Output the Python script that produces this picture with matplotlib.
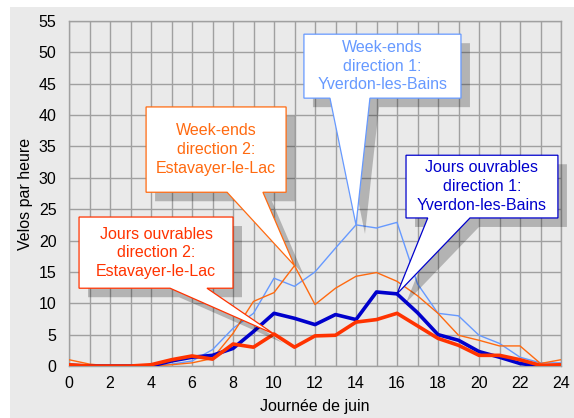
import numpy as np
import matplotlib
matplotlib.use("Agg")
import matplotlib.pyplot as plt
from matplotlib.patches import Polygon, Rectangle
from matplotlib.transforms import offset_copy

plt.rcParams['font.family'] = ['Liberation Sans', 'DejaVu Sans']

# heures de la journée
hours = list(range(25))

# vélos par heure
we_dir1 = [0.3, 0.1, 0, 0, 0, 0.3, 0.8, 2.6, 6.0, 8.4, 14.0, 12.7, 15.0, 18.8, 22.5,
           22.0, 22.9, 13.1, 8.4, 8.0, 4.9, 3.6, 1.4, 0.5, 0.5]
we_dir2 = [1.0, 0.3, 0, 0, 0, 0.2, 0.5, 1.2, 5.2, 10.3, 11.7, 16.0, 9.8, 12.4, 14.3,
           14.9, 13.5, 11.2, 8.4, 4.9, 4.1, 3.2, 3.2, 0.4, 1.0]
jo_dir1 = [0.1, 0, 0, 0, 0, 0.8, 1.4, 1.7, 2.8, 5.5, 8.4, 7.6, 6.6, 8.2, 7.4,
           11.8, 11.5, 8.5, 5.0, 4.1, 2.3, 1.4, 0.4, 0, 0]
jo_dir2 = [0.2, 0, 0, 0, 0.2, 1.0, 1.6, 1.1, 3.5, 3.0, 5.1, 3.0, 4.8, 4.9, 7.0,
           7.4, 8.4, 6.4, 4.4, 3.3, 1.7, 1.7, 1.0, 0.1, 0.2]

x_ticks = list(range(0, 25, 2))
y_ticks = list(range(0, 56, 5))

c_lblue = '#6699ff'
c_orange = '#ff6a10'
c_dblue = '#0000cc'
c_red = '#ff3300'
bg = '#eaeaea'
grid_c = '#a0a0a0'

fig = plt.figure(figsize=(5.74, 4.18), dpi=100)
fig.patch.set_facecolor('white')
fig.patches.append(Rectangle((10 / 574, 0), 1, 1 - 7 / 418, transform=fig.transFigure,
                             fc=bg, ec='none', zorder=-10))

ax = fig.add_axes([69 / 574, 52 / 418, 492 / 574, 345 / 418])
ax.set_facecolor(bg)

ax.plot(hours, we_dir1, color=c_lblue, lw=1.0, zorder=3)
ax.plot(hours, we_dir2, color=c_orange, lw=1.0, zorder=3)
ax.plot(hours, jo_dir1, color=c_dblue, lw=2.6, zorder=3)
ax.plot(hours, jo_dir2, color=c_red, lw=2.6, zorder=3)

ax.set_xlim(0, 24)
ax.set_ylim(0, 55)
ax.set_xticks(x_ticks)
ax.set_xticks(range(25), minor=True)
ax.set_yticks(y_ticks)
ax.grid(True, which='both', axis='x', color=grid_c, lw=1.0)
ax.grid(True, which='major', axis='y', color=grid_c, lw=1.0)
ax.set_axisbelow(True)
for s in ax.spines.values():
    s.set_color(grid_c)
    s.set_linewidth(1.0)
ax.tick_params(which='both', length=0, labelsize=11.5, colors='black')
ax.tick_params(axis='x', pad=7)
ax.tick_params(axis='y', pad=9)
ax.set_xlabel('Journée de juin', fontsize=11.5, labelpad=6)
ax.set_ylabel('Velos par heure', fontsize=11.5, labelpad=4)

shadow_tr = offset_copy(ax.transData, fig=fig, x=9, y=-9, units='dots')


def callout(box, base, tip, text, color):
    x0, x1, y0, y1 = box
    b0, b1 = base
    verts = [(x0, y1), (x1, y1), (x1, y0), (b1, y0), tip, (b0, y0), (x0, y0)]
    ax.add_patch(Polygon(verts, closed=True, transform=shadow_tr, fc='black',
                         alpha=0.23, ec='none', zorder=4, clip_on=False))
    ax.add_patch(Polygon(verts, closed=True, fc='white', ec=color, lw=0.9,
                         zorder=5, clip_on=False))
    ax.text((x0 + x1) / 2, (y0 + y1) / 2, text, ha='center', va='center',
            color=color, fontsize=11.5, linespacing=1.3, zorder=6)


callout((11.46, 19.12, 42.7, 52.9), (12.73, 14.68), (14, we_dir1[14]),
        'Week-ends\ndirection 1:\nYverdon-les-Bains', c_lblue)
callout((3.76, 10.59, 27.7, 41.3), (7.71, 9.46), (11, we_dir2[11]),
        'Week-ends\ndirection 2:\nEstavayer-le-Lac', c_orange)
callout((0.49, 8.0, 12.4, 23.75), (4.93, 6.73), (10, jo_dir2[10]),
        'Jours ouvrables\ndirection 2:\nEstavayer-le-Lac', c_red)
callout((16.44, 23.85, 23.6, 33.6), (17.5, 19.56), (16, jo_dir1[16]),
        'Jours ouvrables\ndirection 1:\nYverdon-les-Bains', c_dblue)

fig.savefig('out.png', dpi=100)
